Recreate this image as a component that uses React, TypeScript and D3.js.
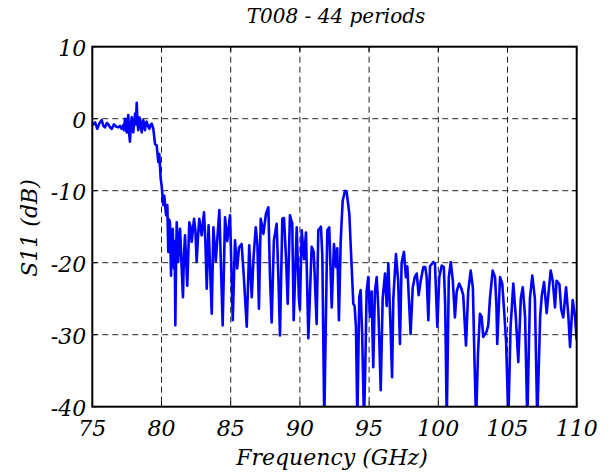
import { useEffect, useRef } from "react";
import * as d3 from "d3";

const title = "T008 - 44 periods";
const xLabel = "Frequency (GHz)";
const yLabel = "S11 (dB)";

const xTicks = [75, 80, 85, 90, 95, 100, 105, 110];
const yTicks = [-40, -30, -20, -10, 0, 10];

// frequency samples (GHz)
const freqGHz = [
  75.0, 75.2, 75.36, 75.52, 75.68, 75.8, 75.92, 76.05, 76.16, 76.28, 76.4, 76.57, 76.72, 76.88, 77.0, 77.12,
  77.24, 77.3, 77.36, 77.42, 77.49, 77.55, 77.6, 77.66, 77.72, 77.78, 77.85, 77.9, 77.96, 78.02, 78.09, 78.15,
  78.21, 78.26, 78.32, 78.38, 78.45, 78.51, 78.57, 78.63, 78.69, 78.75, 78.81, 78.87, 78.93, 79.02, 79.12, 79.2,
  79.29, 79.41, 79.53, 79.65, 79.77, 79.84, 79.94, 80.01, 80.13, 80.2, 80.33, 80.42, 80.49, 80.55, 80.61, 80.69,
  80.75, 80.81, 80.9, 80.95, 81.0, 81.05, 81.1, 81.21, 81.28, 81.34, 81.46, 81.55, 81.62, 81.7, 81.86, 82.01,
  82.1, 82.18, 82.35, 82.45, 82.54, 82.65, 82.73, 82.9, 83.07, 83.17, 83.27, 83.4, 83.63, 83.75, 83.92, 84.18,
  84.42, 84.59, 84.75, 84.95, 85.15, 85.31, 85.47, 85.6, 85.79, 85.95, 86.16, 86.34, 86.52, 86.66, 86.81, 86.93,
  87.04, 87.17, 87.36, 87.55, 87.72, 87.84, 87.96, 88.12, 88.32, 88.46, 88.56, 88.73, 88.85, 89.0, 89.12, 89.28,
  89.45, 89.55, 89.77, 89.93, 90.0, 90.13, 90.3, 90.44, 90.61, 90.85, 91.0, 91.21, 91.33, 91.52, 91.62, 91.76,
  91.98, 92.12, 92.3, 92.46, 92.61, 92.7, 92.82, 92.95, 93.09, 93.26, 93.38, 93.57, 93.74, 93.86, 93.95, 94.05,
  94.15, 94.29, 94.39, 94.5, 94.63, 94.72, 94.82, 94.94, 95.06, 95.18, 95.3, 95.42, 95.55, 95.67, 95.84, 95.98,
  96.15, 96.27, 96.39, 96.55, 96.66, 96.75, 96.94, 97.1, 97.23, 97.35, 97.52, 97.66, 97.76, 97.9, 98.0, 98.15,
  98.3, 98.44, 98.58, 98.73, 98.92, 99.06, 99.16, 99.28, 99.4, 99.64, 99.76, 99.93, 100.07, 100.25, 100.4, 100.5,
  100.61, 100.76, 100.9, 101.05, 101.2, 101.33, 101.5, 101.65, 101.8, 102.0, 102.16, 102.34, 102.5, 102.62, 102.73, 102.87,
  103.01, 103.13, 103.25, 103.48, 103.61, 103.73, 103.93, 104.1, 104.2, 104.26, 104.46, 104.62, 104.75, 104.9, 105.06, 105.22,
  105.42, 105.6, 105.78, 105.96, 106.1, 106.27, 106.43, 106.62, 106.79, 106.98, 107.15, 107.36, 107.48, 107.64, 107.83, 107.95,
  108.12, 108.27, 108.43, 108.55, 108.75, 108.88, 109.03, 109.23, 109.4, 109.52, 109.71, 109.88, 110.0,
];

// reflection magnitude (dB) at those frequencies
const s11dB = [
  -0.9, -0.5, -1.4, -0.6, -0.2, -1.0, -1.2, -0.6, -0.8, -1.2, -1.4, -0.8, -1.1, -1.2, -1.0, -1.4,
  -0.9, -1.6, 0.0, -1.4, -1.9, -0.3, 0.5, -2.0, -3.2, -1.0, 0.2, -1.2, -1.9, -0.5, 0.7, -0.8,
  2.2, -0.3, -1.6, 0.2, 0.0, -1.2, -1.9, -0.5, -0.2, -1.1, -1.6, -0.6, -0.4, -1.0, -1.4, -0.9,
  -0.7, -1.4, -3.5, -3.7, -6.0, -4.9, -8.3, -9.3, -12.0, -10.7, -13.4, -12.0, -18.5, -14.0, -14.4, -21.8,
  -16.0, -15.3, -20.8, -17.0, -28.7, -20.0, -14.4, -19.9, -16.5, -15.3, -20.8, -24.8, -19.0, -16.2, -23.2, -14.4,
  -15.0, -17.1, -13.9, -15.5, -19.9, -16.0, -13.9, -16.2, -13.0, -17.0, -23.6, -14.8, -27.1, -15.1, -19.8, -12.7,
  -28.7, -13.7, -17.0, -13.4, -28.0, -16.9, -20.8, -17.9, -17.4, -22.0, -28.9, -17.6, -24.8, -19.0, -15.1, -17.5,
  -26.4, -13.9, -16.0, -13.2, -12.3, -22.0, -28.3, -16.9, -14.6, -23.0, -30.1, -13.9, -13.8, -19.5, -25.7, -13.4,
  -14.6, -28.0, -15.1, -25.0, -26.5, -15.5, -19.5, -15.8, -30.5, -17.8, -18.5, -28.5, -15.5, -15.0, -19.0, -42.0,
  -15.5, -15.1, -26.2, -17.4, -20.6, -18.0, -28.0, -16.9, -11.4, -10.0, -10.2, -13.2, -20.6, -25.7, -26.0, -28.9,
  -42.0, -24.8, -23.8, -30.0, -42.0, -35.0, -24.0, -22.0, -27.5, -24.0, -34.5, -24.0, -22.0, -26.5, -37.7, -25.0,
  -21.5, -26.0, -20.1, -29.0, -35.9, -25.0, -18.8, -22.5, -31.3, -20.0, -18.5, -22.0, -20.5, -26.0, -29.9, -23.5,
  -22.0, -21.5, -24.5, -22.5, -20.6, -20.6, -22.0, -28.0, -20.5, -19.9, -20.2, -28.9, -22.0, -20.4, -20.6, -26.0,
  -42.0, -22.0, -19.9, -22.5, -27.6, -24.0, -22.9, -23.5, -24.5, -31.5, -24.0, -21.1, -23.5, -34.0, -42.0, -32.5,
  -27.1, -27.5, -30.3, -29.6, -28.7, -25.0, -21.1, -22.0, -26.0, -31.3, -22.0, -22.9, -26.5, -31.0, -42.0, -29.0,
  -22.9, -27.5, -33.8, -25.0, -23.4, -27.5, -42.0, -25.0, -21.8, -25.0, -42.0, -27.5, -24.5, -22.7, -27.0, -24.5,
  -21.1, -22.5, -26.2, -22.5, -23.0, -26.5, -27.6, -23.4, -27.5, -31.7, -25.2, -27.5, -30.8,
];

const W = 616;
const H = 474;
const M = { left: 92.3, right: 576.7, top: 46.7, bottom: 406.7 };
const FONT = "'DejaVu Serif', serif";

export default function App() {
  const ref = useRef<SVGSVGElement>(null);

  useEffect(() => {
    if (!ref.current) return;
    const svg = d3.select(ref.current);
    svg.selectAll("*").remove();

    const x = d3.scaleLinear().domain([75, 110]).range([M.left, M.right]);
    const y = d3.scaleLinear().domain([-40, 10]).range([M.bottom, M.top]);

    svg.append("rect").attr("width", W).attr("height", H).attr("fill", "#fff");

    svg.append("defs").append("clipPath").attr("id", "plotClip")
      .append("rect")
      .attr("x", M.left).attr("y", M.top)
      .attr("width", M.right - M.left).attr("height", M.bottom - M.top);

    // grid
    const grid = svg.append("g").attr("stroke", "#222").attr("stroke-width", 1)
      .attr("stroke-dasharray", "6,4");
    grid.selectAll("line.gx")
      .data(xTicks.slice(1, -1))
      .join("line")
      .attr("x1", (d) => x(d)).attr("x2", (d) => x(d))
      .attr("y1", M.top).attr("y2", M.bottom);
    grid.selectAll("line.gy")
      .data(yTicks.slice(1, -1))
      .join("line")
      .attr("class", "gy")
      .attr("y1", (d) => y(d)).attr("y2", (d) => y(d))
      .attr("x1", M.left).attr("x2", M.right);

    // trace
    const pts = freqGHz.map((f, i) => [f, s11dB[i]] as [number, number]);
    const line = d3.line<[number, number]>().x((d) => x(d[0])).y((d) => y(d[1]));
    svg.append("path")
      .datum(pts)
      .attr("clip-path", "url(#plotClip)")
      .attr("d", line)
      .attr("fill", "none")
      .attr("stroke", "#0000ff")
      .attr("stroke-width", 2.6)
      .attr("stroke-linejoin", "round");

    // inside ticks
    const tk = svg.append("g").attr("stroke", "#000").attr("stroke-width", 1);
    xTicks.forEach((t) => {
      tk.append("line").attr("x1", x(t)).attr("x2", x(t)).attr("y1", M.bottom).attr("y2", M.bottom - 5);
      tk.append("line").attr("x1", x(t)).attr("x2", x(t)).attr("y1", M.top).attr("y2", M.top + 5);
    });
    yTicks.forEach((t) => {
      tk.append("line").attr("y1", y(t)).attr("y2", y(t)).attr("x1", M.left).attr("x2", M.left + 5);
      tk.append("line").attr("y1", y(t)).attr("y2", y(t)).attr("x1", M.right).attr("x2", M.right - 5);
    });

    // box
    svg.append("rect")
      .attr("x", M.left).attr("y", M.top)
      .attr("width", M.right - M.left).attr("height", M.bottom - M.top)
      .attr("fill", "none").attr("stroke", "#000").attr("stroke-width", 2);

    const txt = svg.append("g")
      .attr("font-family", FONT).attr("font-style", "italic").attr("fill", "#000");

    txt.selectAll("text.xt")
      .data(xTicks)
      .join("text")
      .attr("class", "xt")
      .attr("x", (d) => x(d)).attr("y", M.bottom + 29)
      .attr("text-anchor", "middle")
      .attr("font-size", 22)
      .text((d) => d);

    txt.selectAll("text.yt")
      .data(yTicks)
      .join("text")
      .attr("class", "yt")
      .attr("x", M.left - 6).attr("y", (d) => y(d) + 9)
      .attr("text-anchor", "end")
      .attr("font-size", 22)
      .text((d) => d);

    txt.append("text")
      .attr("x", 332).attr("y", 465)
      .attr("text-anchor", "middle").attr("font-size", 22)
      .text(xLabel);

    txt.append("text")
      .attr("transform", `translate(37,228) rotate(-90)`)
      .attr("text-anchor", "middle").attr("font-size", 22)
      .text(yLabel);

    txt.append("text")
      .attr("x", 336).attr("y", 23)
      .attr("text-anchor", "middle").attr("font-size", 20)
      .text(title);
  }, []);

  return (
    <svg ref={ref} width={W} height={H} style={{ position: "absolute", left: 0, top: 0 }} />
  );
}
